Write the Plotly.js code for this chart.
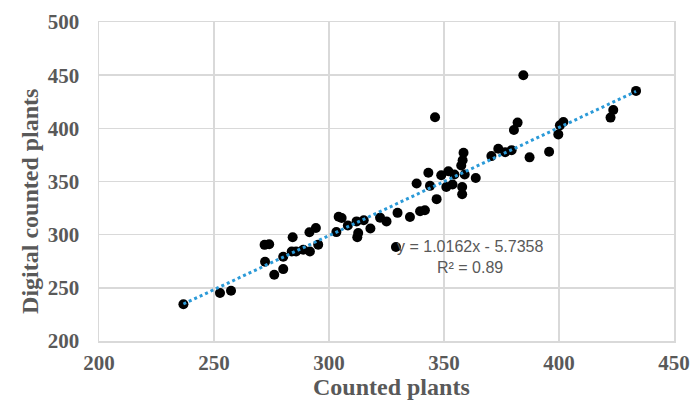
<!DOCTYPE html>
<html>
<head>
<meta charset="utf-8">
<script src="https://cdn.plot.ly/plotly-3.0.1.min.js"></script>
<style>html,body{margin:0;padding:0;background:#fff;}#chart{width:694px;height:405px;}</style>
</head>
<body>
<div id="chart"></div>
<script>
// Counted plants (x) vs digital counted plants (y)
const countedPlants = [
  236.7, 252.6, 257.4, 272.0, 274.0, 272.2, 276.2, 280.1, 280.1, 284.2,
  283.8, 285.7, 291.5, 294.3, 291.7, 295.3, 288.8, 303.2, 304.2, 305.5,
  308.2, 312.0, 315.1, 312.3, 312.7, 318.0, 322.2, 325.0, 329.8, 329.1,
  335.2, 339.6, 341.7, 338.1, 343.2, 343.9, 346.8, 346.1, 348.8, 351.9,
  351.0, 353.7, 354.5, 357.9, 357.9, 358.1, 358.5, 357.5, 359.0, 363.8,
  370.6, 373.6, 376.6, 379.4, 380.4, 382.0, 384.5, 387.2, 395.7, 399.7,
  400.4, 401.9, 422.4, 423.6, 433.5
];
const digitalCountedPlants = [
  234.6, 245.2, 247.2, 290.4, 291.0, 274.5, 262.3, 267.6, 279.2, 297.5,
  284.2, 284.2, 302.2, 306.3, 284.2, 290.6, 285.8, 302.4, 316.8, 315.7,
  308.6, 312.5, 313.5, 297.5, 301.6, 305.8, 316.0, 312.5, 320.5, 288.4,
  316.6, 322.0, 322.9, 348.1, 358.2, 345.9, 333.4, 410.4, 355.8, 359.7,
  344.8, 347.2, 356.6, 344.8, 338.0, 370.0, 377.0, 365.0, 356.6, 353.3,
  373.9, 380.8, 377.5, 379.5, 398.4, 405.4, 450.0, 372.7, 378.0, 394.3,
  402.8, 405.9, 410.1, 417.3, 435.2
];
// Linear trendline coefficients shown on the chart
const trendSlope = 1.0162;
const trendIntercept = -5.7358;
const rSquared = 0.89;
const xTicks = [200, 250, 300, 350, 400, 450];
const yTicks = [200, 250, 300, 350, 400, 450, 500];

const xMin = Math.min(...countedPlants);
const xMax = Math.max(...countedPlants);
const trendX = [xMin, xMax];
const trendY = trendX.map(x => trendSlope * x + trendIntercept);

const serif = '"Liberation Serif", "Times New Roman", serif';
const sans = '"Liberation Sans", Arial, sans-serif';
const grey = '#595959';

const data = [
  {
    x: countedPlants, y: digitalCountedPlants, type: 'scatter', mode: 'markers',
    marker: {color: '#000000', size: 10}, hoverinfo: 'skip', showlegend: false
  },
  {
    x: trendX, y: trendY, type: 'scatter', mode: 'lines',
    line: {color: '#2b9ad8', width: 3, dash: 'dot'},
    hoverinfo: 'skip', showlegend: false
  }
];

const layout = {
  width: 694, height: 405,
  margin: {l: 99, r: 20, t: 22, b: 64},
  paper_bgcolor: '#ffffff', plot_bgcolor: '#ffffff',
  showlegend: false,
  xaxis: {
    range: [200, 450], tickvals: xTicks, ticktext: xTicks.map(String),
    showgrid: true, gridcolor: '#d9d9d9', gridwidth: 1.5,
    zeroline: false, showline: true, mirror: true, linecolor: '#d9d9d9', linewidth: 1.5,
    ticks: '', ticklabelstandoff: 2,
    tickfont: {family: serif, size: 21, color: grey, weight: 'bold'}
  },
  yaxis: {
    range: [200, 500], tickvals: yTicks, ticktext: yTicks.map(String),
    showgrid: true, gridcolor: '#d9d9d9', gridwidth: 1.5,
    zeroline: false, showline: true, mirror: true, linecolor: '#d9d9d9', linewidth: 1.5,
    ticks: '', ticklabelstandoff: 14,
    tickfont: {family: serif, size: 21, color: grey, weight: 'bold'}
  },
  annotations: [
    {
      xref: 'paper', yref: 'paper', x: 0.508, y: -0.144, xanchor: 'center', yanchor: 'middle',
      text: 'Counted plants', showarrow: false,
      font: {family: serif, size: 24, color: grey, weight: 'bold'}
    },
    {
      xref: 'paper', yref: 'paper', x: -0.12, y: 0.436, xanchor: 'center', yanchor: 'middle',
      textangle: -90, text: 'Digital counted plants', showarrow: false,
      font: {family: serif, size: 24, color: grey, weight: 'bold'}
    },
    {
      xref: 'x', yref: 'y', x: 361.5, y: 288.7, xanchor: 'center', yanchor: 'middle',
      text: 'y = ' + trendSlope.toFixed(4) + 'x - ' + Math.abs(trendIntercept).toFixed(4),
      showarrow: false, font: {family: sans, size: 16, color: grey}
    },
    {
      xref: 'x', yref: 'y', x: 361.5, y: 268.9, xanchor: 'center', yanchor: 'middle',
      text: 'R² = ' + rSquared.toFixed(2),
      showarrow: false, font: {family: sans, size: 16, color: grey}
    }
  ]
};

Plotly.newPlot('chart', data, layout, {displayModeBar: false, staticPlot: true});
</script>
</body>
</html>
